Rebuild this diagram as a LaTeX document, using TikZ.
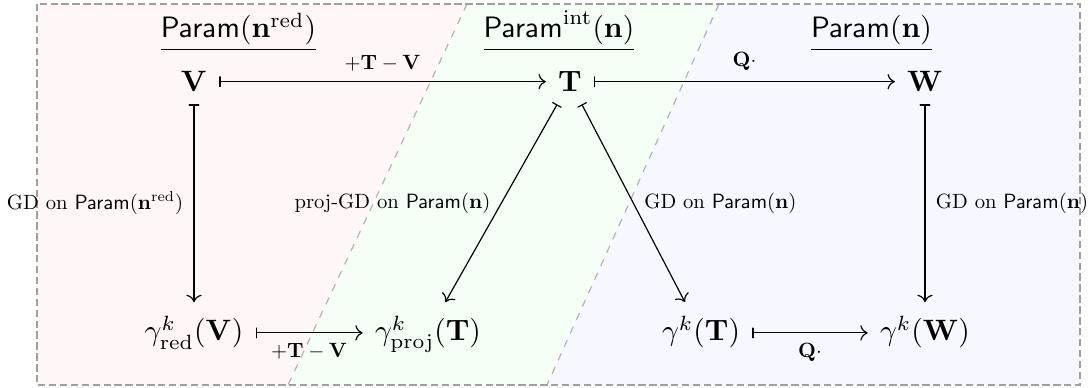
\documentclass[tikz,border=0pt]{standalone}
\usetikzlibrary{cd}
\newcommand{\lblsc}[1]{\scalebox{0.7}{#1}}
\begin{document}
\begin{tikzpicture}[x=0.33898pt,y=-0.33898pt,
  obj/.style={anchor=base,inner sep=4pt},
  topobj/.style={obj,text height=7pt,text depth=0pt},
  botobj/.style={obj,text height=9pt,text depth=3.5pt},
  hdr/.style={anchor=base,inner sep=2pt},
  mapsto/.style={draw,{cm bar}-{cm to},line width=0.4pt},
  lbl/.style={inner sep=3.5pt},
  frame/.style={draw=gray!75,line width=0.4pt,dash pattern=on 2.5pt off 1.2pt},
  divider/.style={draw=gray!60,line width=0.4pt,dash pattern=on 2.5pt off 2.5pt}]
\useasboundingbox (0,0) rectangle (1092,388);
% regions
\fill[red!3] (37,4) -- (467,4) -- (288,385) -- (37,385) -- cycle;
\fill[green!4] (467,4) -- (719,4) -- (547,385) -- (288,385) -- cycle;
\fill[blue!3] (719,4) -- (1080,4) -- (1080,385) -- (547,385) -- cycle;
\draw[divider] (467,4) -- (288,385);
\draw[divider] (719,4) -- (547,385);
\draw[frame] (37,4) rectangle (1080,385);
% headers
\node[hdr] (h1) at (238.5,38) {$\underline{\mathsf{Param}(\mathbf{n}^{\mathrm{red}})}$};
\node[hdr] (h2) at (559,38) {$\underline{\mathsf{Param}^{\mathrm{int}}(\mathbf{n})}$};
\node[hdr] (h3) at (871.5,38) {$\underline{\mathsf{Param}(\mathbf{n})}$};
% objects
\node[topobj] (V) at (194,92) {$\mathbf{V}$};
\node[topobj] (T) at (570,92) {$\mathbf{T}$};
\node[topobj] (W) at (925,92) {$\mathbf{W}$};
\node[botobj] (gV) at (194,341) {$\gamma^k_{\mathrm{red}}(\mathbf{V})$};
\node[botobj] (gpT) at (428,341) {$\gamma^k_{\mathrm{proj}}(\mathbf{T})$};
\node[botobj] (gT) at (701,341) {$\gamma^k(\mathbf{T})$};
\node[botobj] (gW) at (925,341) {$\gamma^k(\mathbf{W})$};
% arrows
\draw[mapsto] (V) -- node[lbl,above]{\lblsc{$+\mathbf{T}-\mathbf{V}$}} (T);
\draw[mapsto] (T) -- node[lbl,above]{\lblsc{$\mathbf{Q}\cdot$}} (W);
\draw[mapsto] (V) -- node[lbl,left]{\lblsc{GD on $\mathsf{Param}(\mathbf{n}^{\mathrm{red}})$}} (gV);
\draw[mapsto] (T) -- node[lbl,left]{\lblsc{proj-GD on $\mathsf{Param}(\mathbf{n})$}} (gpT);
\draw[mapsto] (T) -- node[lbl,right]{\lblsc{GD on $\mathsf{Param}(\mathbf{n})$}} (gT);
\draw[mapsto] (W) -- node[lbl,right]{\lblsc{GD on $\mathsf{Param}(\mathbf{n})$}} (gW);
\draw[mapsto] (gV) -- node[lbl,below]{\lblsc{$+\mathbf{T}-\mathbf{V}$}} (gpT);
\draw[mapsto] (gT) -- node[lbl,below]{\lblsc{$\mathbf{Q}\cdot$}} (gW);
\end{tikzpicture}
\end{document}
